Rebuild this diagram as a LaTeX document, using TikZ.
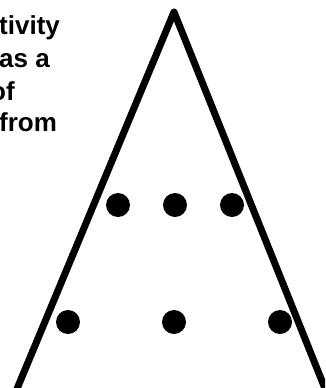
\documentclass[tikz,border=0pt]{standalone}
\usepackage{fontspec}
\setmainfont{Liberation Sans}
\begin{document}
\begin{tikzpicture}[x=1pt,y=-1pt,
  dot/.style={circle,fill=black,inner sep=0pt,minimum size=24pt},
  txt/.style={anchor=base west,inner sep=0pt,font=\fontsize{26}{30}\selectfont\bfseries},
  edge/.style={line width=7pt,line join=round}]
\useasboundingbox (0,0) rectangle (325,388);
\clip (0,0) rectangle (325,388);
\node[txt] (l1) at (-1,34) {tivity};
\node[txt] (l2) at (-1,67) {as a};
\node[txt] (l3) at (-10,100) {of};
\node[txt] (l4) at (-1,131) {from};
\coordinate (apex) at (174,12);
\coordinate (bl) at (14,396);
\coordinate (br) at (328,396);
\draw[edge] (bl) -- (apex) -- (br);
\node[dot] (a1) at (118,205) {};
\node[dot] (a2) at (175,205) {};
\node[dot] (a3) at (232,205) {};
\node[dot] (b1) at (68,322) {};
\node[dot] (b2) at (174,322) {};
\node[dot] (b3) at (280,322) {};
\end{tikzpicture}
\end{document}
